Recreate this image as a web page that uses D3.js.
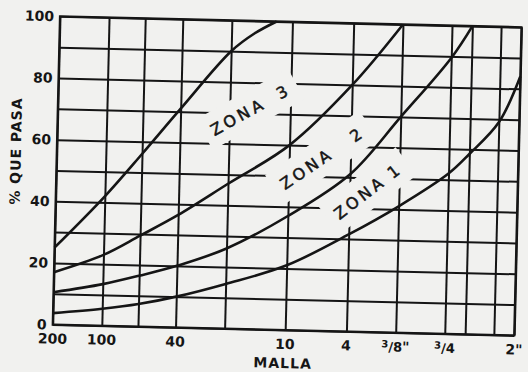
<!DOCTYPE html>
<html lang="es">
<head>
<meta charset="UTF-8">
<title>Zonas granulometricas</title>
<script src="https://d3js.org/d3.v7.min.js"></script>
<style>
  body { margin: 0; background: #f1f1ef; }
  svg { display: block; }
  text { font-family: "DejaVu Sans", sans-serif; fill: #151515; }
</style>
</head>
<body>
<div id="chart"></div>
<script>
// aberturas de tamiz (mm) de la cuadricula y su rotulo
const sieveSizes  = [0.075, 0.15, 0.25, 0.425, 0.85, 2.0, 4.75, 9.525, 19.05, 25.4, 38.1, 50.8];
const sieveLabels = ["200", "100", "", "40", "", "10", "4", "3/8\"", "3/4", "", "", "2\""];
const pctTicks = [0, 20, 40, 60, 80, 100];
const pctGrid  = [0, 10, 20, 30, 40, 50, 60, 70, 80, 90, 100];

// limites de las zonas: [tamiz mm, % que pasa]
const limZona3Fina = [[0.075, 25], [0.15, 42], [0.25, 56], [0.425, 71], [0.85, 90], [1.18, 96], [1.6, 100]];
const limZona3y2   = [[0.075, 17], [0.15, 23], [0.25, 29.5], [0.425, 36.5], [0.85, 47], [2.0, 60], [4.75, 80], [9.525, 100]];
const limZona2y1   = [[0.075, 10.5], [0.15, 13.5], [0.25, 16.5], [0.425, 20], [0.85, 26], [2.0, 37], [4.75, 51], [9.525, 70], [19.05, 89.5], [25.4, 100]];
const limZona1Grue = [[0.075, 3.7], [0.15, 5.5], [0.25, 7.3], [0.425, 10], [0.85, 14.5], [2.0, 21], [4.75, 31.5], [9.525, 41], [19.05, 52], [25.4, 58.5], [38.1, 69], [50.8, 84]];

// rotulos de zona: nombre, numero, tamiz y % en el centro del rotulo
const zoneNames  = ["ZONA", "ZONA", "ZONA"];
const zoneNums   = ["3", "2", "1"];
const zoneSieve  = [1.14, 3.19, 6.15];
const zonePct    = [71.2, 56.1, 45.7];

const zoneStyle = [
  { angle: -30.4, gap: 15 },
  { angle: -35.7, gap: 24 },
  { angle: -38.9, gap: 7 }
];

const W = 461.6, H = 308.3;
const marginLeft = 56.3, marginTop = 21.75;
const ink = "#151515";

const x = d3.scaleLog().domain([0.075, 50.8]).range([0, W]);
const y = d3.scaleLinear().domain([0, 100]).range([H, 0]);

const svg = d3.select("#chart").append("svg")
  .attr("width", 528)
  .attr("height", 372);

svg.append("rect").attr("width", 528).attr("height", 372).attr("fill", "#f1f1ef");

// la hoja escaneada esta algo girada
const g = svg.append("g")
  .attr("transform", "rotate(1.35, 287.1, 175.9) translate(" + marginLeft + "," + marginTop + ")");

// cuadricula
const yGrid = g.append("g")
  .call(d3.axisLeft(y).tickValues(pctGrid).tickSize(-W).tickFormat(""));
const xGrid = g.append("g")
  .attr("transform", "translate(0," + H + ")")
  .call(d3.axisBottom(x).tickValues(sieveSizes).tickSize(-H).tickFormat(""));
[yGrid, xGrid].forEach(a => {
  a.select(".domain").remove();
  a.selectAll("line").attr("stroke", ink).attr("stroke-width", 2);
});

// rotulos de zona con su fondo blanco que corta la cuadricula
const labels = g.selectAll(".zona")
  .data(zoneNames.map((n, i) => ({ name: n, num: zoneNums[i], s: zoneSieve[i], p: zonePct[i], st: zoneStyle[i] })))
  .join("g")
  .attr("class", "zona")
  .attr("transform", d => "translate(" + x(d.s) + "," + y(d.p) + ") rotate(" + d.st.angle + ")");

const ztext = labels.append("text")
  .attr("text-anchor", "middle")
  .attr("dy", "0.36em")
  .attr("font-size", 16)
  .attr("letter-spacing", 3.5)
  .attr("stroke", ink)
  .attr("stroke-width", 0.5)
  .text(d => d.name);
ztext.append("tspan")
  .attr("dx", d => d.st.gap)
  .text(d => d.num);

labels.each(function () {
  const bb = d3.select(this).select("text").node().getBBox();
  d3.select(this).insert("rect", "text")
    .attr("x", bb.x - 8)
    .attr("width", bb.width + 16)
    .attr("y", -18)
    .attr("height", 35)
    .attr("fill", "#f1f1ef");
});

// marco
g.append("rect")
  .attr("width", W)
  .attr("height", H)
  .attr("fill", "none")
  .attr("stroke", ink)
  .attr("stroke-width", 2.2);

// curvas limite
const line = d3.line()
  .x(d => x(d[0]))
  .y(d => y(d[1]))
  .curve(d3.curveCatmullRom.alpha(0.5));

g.selectAll(".limite")
  .data([limZona3Fina, limZona3y2, limZona2y1, limZona1Grue])
  .join("path")
  .attr("class", "limite")
  .attr("d", line)
  .attr("fill", "none")
  .attr("stroke", ink)
  .attr("stroke-width", 2.6);

// eje y
const yAxis = g.append("g")
  .call(d3.axisLeft(y).tickValues(pctTicks).tickSize(0).tickPadding(6));
yAxis.select(".domain").remove();
yAxis.selectAll("text")
  .attr("font-family", "DejaVu Sans, sans-serif")
  .attr("font-size", 14)
  .attr("font-weight", "bold")
  .attr("fill", ink);

// eje x: rotulos de tamiz, las fracciones con el 3 pequeño y alto
const xl = g.append("g")
  .selectAll("text")
  .data(sieveSizes.map((s, i) => ({ s: s, label: sieveLabels[i] })).filter(d => d.label !== ""))
  .join("text")
  .attr("x", d => x(d.s))
  .attr("y", H + 19)
  .attr("text-anchor", "middle")
  .attr("font-size", 14)
  .attr("font-weight", "bold");

xl.each(function (d) {
  const t = d3.select(this);
  const m = d.label.match(/^3\/(\d)(.*)$/);
  if (m) {
    t.append("tspan").attr("font-size", 10).attr("dy", -4).text("3");
    t.append("tspan").attr("font-size", 13).attr("dy", 4).text("/");
    t.append("tspan").attr("font-size", 13).text(m[1]);
    if (m[2]) t.append("tspan").attr("font-size", 14).text(m[2]);
  } else {
    t.text(d.label);
  }
});

// titulos de ejes
g.append("text")
  .attr("x", W / 2)
  .attr("y", H + 38)
  .attr("text-anchor", "middle")
  .attr("font-size", 14)
  .attr("font-weight", "bold")
  .attr("letter-spacing", 1)
  .text("MALLA");

g.append("text")
  .attr("transform", "translate(-41," + (H / 2 - 18.5) + ") rotate(-90)")
  .attr("text-anchor", "middle")
  .attr("dy", "0.36em")
  .attr("font-size", 14)
  .attr("font-weight", "bold")
  .attr("letter-spacing", 1)
  .text("% QUE PASA");
</script>
</body>
</html>
